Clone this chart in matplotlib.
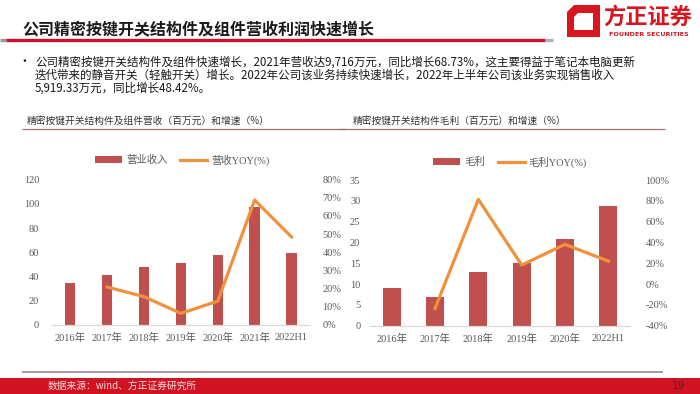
import matplotlib
matplotlib.use("Agg")
import matplotlib.pyplot as plt
import numpy as np
from matplotlib.patches import Rectangle, Polygon
from matplotlib.lines import Line2D
from matplotlib.ticker import FuncFormatter, MultipleLocator

plt.rcParams['font.family'] = ['Noto Sans CJK SC', 'DejaVu Sans']
SERIF = ['Liberation Serif', 'Noto Sans CJK SC']

# ---- data ----
rev_cats = ['2016年', '2017年', '2018年', '2019年', '2020年', '2021年', '2022H1']
rev_vals = [34.3, 41.5, 48.0, 51.0, 57.7, 97.2, 59.2]
rev_yoy = [np.nan, 20.9, 15.6, 6.4, 13.1, 68.7, 48.4]

gp_cats = ['2016年', '2017年', '2018年', '2019年', '2020年', '2022H1']
gp_vals = [9.0, 7.0, 12.8, 15.1, 20.8, 28.7]
gp_yoy = [np.nan, -23.4, 81.4, 18.3, 38.1, 22.1]

title = '公司精密按键开关结构件及组件营收利润快速增长'
bullet_lines = [
    '公司精密按键开关结构件及组件快速增长，2021年营收达9,716万元，同比增长68.73%，这主要得益于笔记本电脑更新',
    '迭代带来的静音开关（轻触开关）增长。2022年公司该业务持续快速增长，2022年上半年公司该业务实现销售收入',
    '5,919.33万元，同比增长48.42%。',
]
sub_left = '精密按键开关结构件及组件营收（百万元）和增速（%）'
sub_right = '精密按键开关结构件毛利（百万元）和增速（%）'
footer = '数据来源：wind、方正证券研究所'
page = '19'

BAR = '#c0504d'
LINE = '#f0913c'
TICK = '#595959'

W, H = 700, 394
fig = plt.figure(figsize=(7, 3.94), dpi=100)
fig.patch.set_facecolor('white')

def fx(x):
    return x / W

def fy(y):
    return 1 - y / H

def hline(x0, x1, y, color, lw):
    fig.add_artist(Line2D([fx(x0), fx(x1)], [fy(y), fy(y)], color=color, lw=lw,
                          transform=fig.transFigure, solid_capstyle='butt'))

# ---- header ----
fig.text(fx(22), fy(29), title, fontsize=11.5, fontweight='bold', color='#1a1a1a',
         va='center', ha='left')
hline(0, 6, 39.5, '#9a9a9a', 2.4)
hline(6, 545, 39.5, '#c8102e', 2.4)
hline(545, 553, 39.5, '#b0b0b0', 2.4)

# logo
red = '#d7161f'
outer = Polygon([[fx(574), fy(5)], [fx(600), fy(5)], [fx(600), fy(37)], [fx(567), fy(37)],
                 [fx(567), fy(12)]], closed=True, transform=fig.transFigure,
                facecolor=red, edgecolor='none')
fig.add_artist(outer)
inner = Polygon([[fx(578), fy(13)], [fx(593), fy(13)], [fx(593), fy(30)], [fx(574), fy(30)],
                 [fx(574), fy(17)]], closed=True, transform=fig.transFigure,
                facecolor='white', edgecolor='none')
fig.add_artist(inner)
fig.text(fx(648), fy(17), '方正证券', fontsize=16, fontweight='bold', color=red,
         ha='center', va='center')
fig.text(fx(649), fy(34), 'FOUNDER SECURITIES', fontsize=4.6, fontweight='bold',
         color=red, ha='center', va='center', family=['DejaVu Sans'])

# bullet text
fig.text(fx(24), fy(62), '•', fontsize=8.5, color='#1a1a1a', ha='center', va='center')
for i, ln in enumerate(bullet_lines):
    fig.text(fx(35), fy(62 + 13.2 * i), ln, fontsize=8.3, color='#1a1a1a',
             ha='left', va='center')

# subtitles
fig.text(fx(27), fy(121), sub_left, fontsize=7, color='#333333', ha='left', va='center')
hline(22, 345, 128.5, '#a07070', 0.9)
fig.text(fx(353), fy(121), sub_right, fontsize=7, color='#333333', ha='left', va='center')
hline(340, 665, 128.5, '#a07070', 0.9)

# footer
hline(22, 663, 372, '#a89a9a', 1.4)
fig.add_artist(Rectangle((0, 0), 1, fy(378), transform=fig.transFigure,
                         facecolor='#cf1322', edgecolor='none'))
fig.text(fx(48), fy(386), footer, fontsize=7, color='#f4dede', ha='left', va='center')
fig.text(fx(678), fy(386), page, fontsize=7.5, color='#5a2020', ha='center', va='center',
         family=['DejaVu Sans'])

pct = FuncFormatter(lambda v, p: f'{v:.0f}%')

def style(ax, ax2):
    for a in (ax, ax2):
        for s in a.spines.values():
            s.set_visible(False)
        a.tick_params(length=0, colors=TICK, labelsize=7.5)
        for lab in a.get_yticklabels() + a.get_xticklabels():
            lab.set_family(SERIF)
    ax.spines['bottom'].set_visible(True)
    ax.spines['bottom'].set_color('#d9d9d9')
    ax.spines['bottom'].set_linewidth(0.9)
    ax.set_facecolor('none')

# ---- left chart ----
axL = fig.add_axes([fx(51.7), fy(325), fx(310) - fx(51.7), fy(179.5) - fy(325)])
xL = np.arange(len(rev_cats))
axL.bar(xL, rev_vals, width=0.28, color=BAR, label='营业收入', zorder=2)
axL.set_xlim(-0.5, len(rev_cats) - 0.5)
axL.set_ylim(0, 120)
axL.yaxis.set_major_locator(MultipleLocator(20))
axL.set_xticks(xL)
axL.set_xticklabels(rev_cats)
axL2 = axL.twinx()
axL2.plot(xL, rev_yoy, color=LINE, lw=2.3, label='营收YOY(%)', zorder=3)
axL2.set_ylim(0, 80)
axL2.yaxis.set_major_locator(MultipleLocator(10))
axL2.yaxis.set_major_formatter(pct)
style(axL, axL2)
axL.tick_params(axis='y', pad=9)
axL2.tick_params(axis='y', pad=9)
axL.tick_params(axis='x', pad=6)
h1, l1 = axL.get_legend_handles_labels()
h2, l2 = axL2.get_legend_handles_labels()
fig.legend(h1 + h2, l1 + l2, loc='center', bbox_to_anchor=(fx(182), fy(160)), ncol=2,
           frameon=False, prop={'family': SERIF, 'size': 7.5}, labelcolor=TICK,
           handlelength=2.6, handleheight=0.6, columnspacing=1.2, handletextpad=0.4)

# ---- right chart ----
axR = fig.add_axes([fx(370), fy(325.7), fx(630) - fx(370), fy(180) - fy(325.7)])
xR = np.arange(len(gp_cats))
axR.bar(xR, gp_vals, width=0.42, color=BAR, label='毛利', zorder=2)
axR.set_xlim(-0.5, len(gp_cats) - 0.5)
axR.set_ylim(0, 35)
axR.yaxis.set_major_locator(MultipleLocator(5))
axR.set_xticks(xR)
axR.set_xticklabels(gp_cats)
axR2 = axR.twinx()
axR2.plot(xR, gp_yoy, color=LINE, lw=2.3, label='毛利YOY(%)', zorder=3)
axR2.set_ylim(-40, 100)
axR2.yaxis.set_major_locator(MultipleLocator(20))
axR2.yaxis.set_major_formatter(pct)
style(axR, axR2)
axR.tick_params(axis='y', pad=7)
axR2.tick_params(axis='y', pad=11)
axR.tick_params(axis='x', pad=6)
h1, l1 = axR.get_legend_handles_labels()
h2, l2 = axR2.get_legend_handles_labels()
fig.legend(h1 + h2, l1 + l2, loc='center', bbox_to_anchor=(fx(510), fy(162)), ncol=2,
           frameon=False, prop={'family': SERIF, 'size': 7.5}, labelcolor=TICK,
           handlelength=2.6, handleheight=0.6, columnspacing=1.2, handletextpad=0.4)

fig.savefig('out.png', dpi=100, facecolor='white')
